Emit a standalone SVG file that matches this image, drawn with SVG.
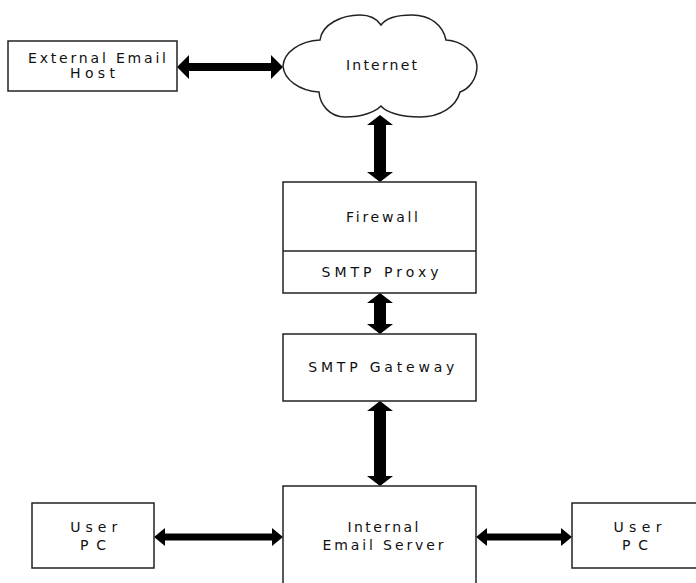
<svg xmlns="http://www.w3.org/2000/svg" width="696" height="583" viewBox="0 0 696 583">
<style>
.box{fill:#fff;stroke:#222;stroke-width:1.5}
.cloud{fill:#fff;stroke:#222;stroke-width:1.5}
.arr{fill:#000;stroke:none}
text{font-family:"DejaVu Sans","Liberation Sans",sans-serif;font-size:14px;fill:#111;text-anchor:middle}
</style>
<rect width="696" height="583" fill="#fff"/>
<g id="connectors">
<polygon class="arr" points="177,67 189,55 189,63 271,63 271,55 283,67 271,79 271,71 189,71 189,79"/>
<polygon class="arr" points="380,115 393,125 386,125 386,172 393,172 380,182 367,172 374,172 374,125 367,125"/>
<polygon class="arr" points="380,293 393,303 386,303 386,324 393,324 380,334 367,324 374,324 374,303 367,303"/>
<polygon class="arr" points="380,401 393,411 386,411 386,476 393,476 380,486 367,476 374,476 374,411 367,411"/>
<polygon class="arr" points="154,537 165,528 165,533.5 272,533.5 272,528 283,537 272,546 272,540.5 165,540.5 165,546"/>
<polygon class="arr" points="476,537 487,528 487,533.5 561,533.5 561,528 572,537 561,546 561,540.5 487,540.5 487,546"/>
</g>
<g id="external-host">
<rect class="box" x="8" y="41" width="169" height="50"/>
<text x="97" y="63" textLength="138" lengthAdjust="spacing">External Email</text>
<text x="92.5" y="78" textLength="45" lengthAdjust="spacing">Host</text>
</g>
<g id="internet">
<path class="cloud" d="M320,40 C322,24 342,15 360,15 C370,15 377,19 381,25 C386,18 396,15 412,15 C430,15 443,25 446,40 C462,41 476,52 477,66 C477,79 469,89 460,92 C456,107 440,117 420,117 C400,117 386,112 381,106 C375,112 362,117 345,117 C330,117 320,105 319,92 C300,91 284,80 283,66 C284,52 300,41 320,40 Z"/>
<text x="381.5" y="70" textLength="71" lengthAdjust="spacing">Internet</text>
</g>
<g id="firewall">
<rect class="box" x="283" y="182" width="193" height="111"/>
<line x1="283" y1="251" x2="476" y2="251" stroke="#222" stroke-width="1.5"/>
<text x="382" y="222" textLength="72" lengthAdjust="spacing">Firewall</text>
<text x="380" y="277" textLength="117" lengthAdjust="spacing">SMTP Proxy</text>
</g>
<g id="smtp-gateway">
<rect class="box" x="283" y="334" width="193" height="67"/>
<text x="381.3" y="372" textLength="146" lengthAdjust="spacing">SMTP Gateway</text>
</g>
<g id="internal-server">
<rect class="box" x="283" y="486" width="193" height="110"/>
<text x="383" y="532" textLength="71" lengthAdjust="spacing">Internal</text>
<text x="383" y="550" textLength="121" lengthAdjust="spacing">Email Server</text>
</g>
<g id="user-pc-left">
<rect class="box" x="32" y="503" width="122" height="65"/>
<text x="93.7" y="532" textLength="47" lengthAdjust="spacing">User</text>
<text x="93" y="550" textLength="26" lengthAdjust="spacing">PC</text>
</g>
<g id="user-pc-right">
<rect class="box" x="572" y="503" width="130" height="65"/>
<text x="637.5" y="532" textLength="48" lengthAdjust="spacing">User</text>
<text x="635" y="550" textLength="26" lengthAdjust="spacing">PC</text>
</g>
</svg>
